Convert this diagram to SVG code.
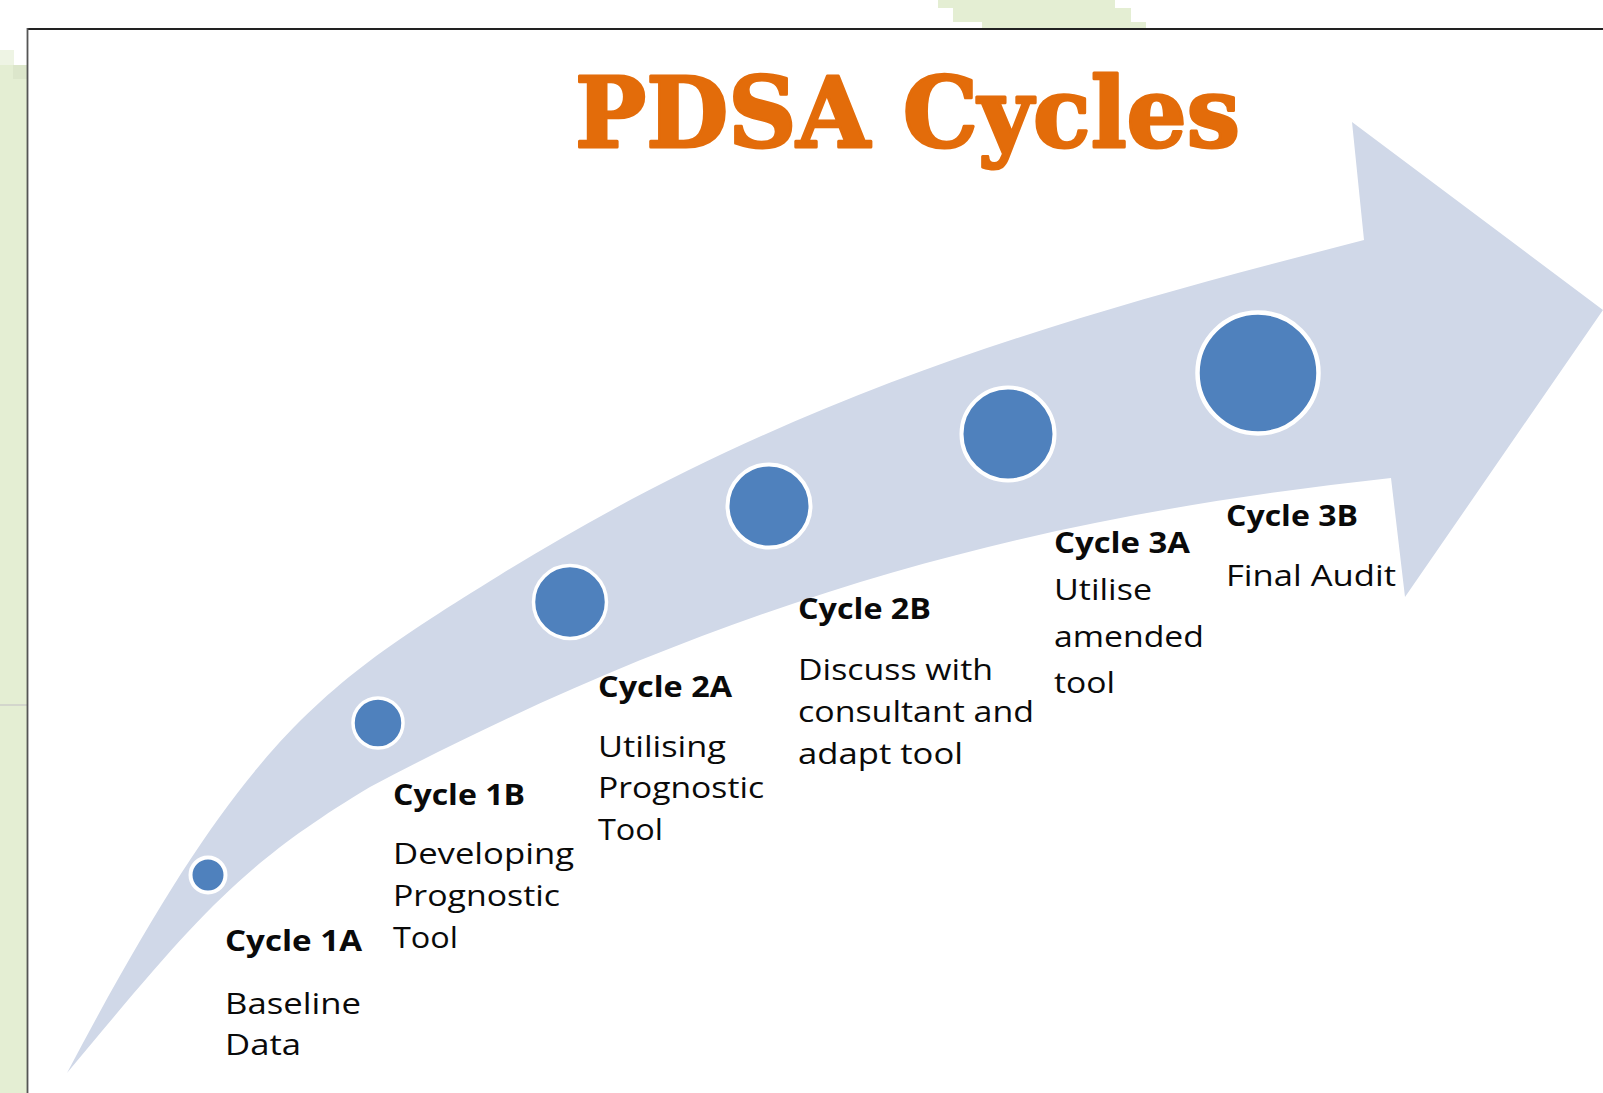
<svg xmlns="http://www.w3.org/2000/svg" width="1603" height="1093" viewBox="0 0 1603 1093">
  <style>
    .hdr { font-family: "Open Sans", "Noto Sans", "Liberation Sans", sans-serif; font-weight: 700; font-size: 29px; fill: #0A0A0A; }
    .body { font-family: "Open Sans", "Noto Sans", "Liberation Sans", sans-serif; font-weight: 400; font-size: 29px; fill: #0A0A0A; }
    .dot { fill: #4F81BD; stroke: #FFFFFF; }
    .title { font-family: "DejaVu Serif", "Liberation Serif", serif; font-weight: 700; font-size: 98px; fill: #E36C0A; stroke: #E36C0A; stroke-width: 3; stroke-linejoin: round; }
  </style>
  <rect x="0" y="0" width="1603" height="1093" fill="#FFFFFF"/>
  <g id="background">
    <rect x="0" y="50" width="14" height="16" fill="#EEF4E4"/>
    <rect x="0" y="65" width="27" height="1028" fill="#E4EED3"/>
    <rect x="13" y="65" width="14" height="14" fill="#DCE6CB"/>
    <rect x="0" y="704" width="27" height="2" fill="#D3D6CC"/>
    <polygon points="938,0 1115,0 1115,8 1131,8 1131,22 1146,22 1146,28 982,28 982,22 953,22 953,8 938,8" fill="#E4EED3"/>
    <line x1="27" y1="29" x2="1603" y2="29" stroke="#222222" stroke-width="1.8"/>
    <line x1="27.5" y1="28" x2="27.5" y2="1093" stroke="#555555" stroke-width="1.8"/>
  </g>
  <text id="title" class="title" x="575" y="147" textLength="665" lengthAdjust="spacingAndGlyphs">PDSA Cycles</text>
  <g id="connectors">
    <path id="progress-arrow" fill="#D0D8E8" d="M 67 1073 C 246 734 320 686.6 500 575 C 800 389 1073.6 315.3 1364 240 L 1352 122 L 1603 310 L 1405 597 L 1391 478 C 1091 511 770 575 370 787 C 240 865 197 917 67 1073 Z"/>
  </g>
  <g id="cycle-1a">
    <circle class="dot" cx="208" cy="875" r="17.5" stroke-width="4"/>
    <text class="hdr" x="225" y="951" textLength="137" lengthAdjust="spacingAndGlyphs">Cycle 1A</text>
    <text class="body" x="225" y="1014" textLength="136" lengthAdjust="spacingAndGlyphs">Baseline</text>
    <text class="body" x="225" y="1055" textLength="76" lengthAdjust="spacingAndGlyphs">Data</text>
  </g>
  <g id="cycle-1b">
    <circle class="dot" cx="378" cy="723" r="25" stroke-width="3.5"/>
    <text class="hdr" x="393" y="805" textLength="132" lengthAdjust="spacingAndGlyphs">Cycle 1B</text>
    <text class="body" x="393" y="864" textLength="181" lengthAdjust="spacingAndGlyphs">Developing</text>
    <text class="body" x="393" y="906" textLength="167" lengthAdjust="spacingAndGlyphs">Prognostic</text>
    <text class="body" x="393" y="948" textLength="65" lengthAdjust="spacingAndGlyphs">Tool</text>
  </g>
  <g id="cycle-2a">
    <circle class="dot" cx="570" cy="602" r="36.5" stroke-width="3.5"/>
    <text class="hdr" x="598" y="697" textLength="134" lengthAdjust="spacingAndGlyphs">Cycle 2A</text>
    <text class="body" x="598" y="757" textLength="128" lengthAdjust="spacingAndGlyphs">Utilising</text>
    <text class="body" x="598" y="798" textLength="166" lengthAdjust="spacingAndGlyphs">Prognostic</text>
    <text class="body" x="598" y="840" textLength="65" lengthAdjust="spacingAndGlyphs">Tool</text>
  </g>
  <g id="cycle-2b">
    <circle class="dot" cx="769" cy="506" r="41.5" stroke-width="4"/>
    <text class="hdr" x="798" y="619" textLength="133" lengthAdjust="spacingAndGlyphs">Cycle 2B</text>
    <text class="body" x="798" y="680" textLength="195" lengthAdjust="spacingAndGlyphs">Discuss with</text>
    <text class="body" x="798" y="722" textLength="236" lengthAdjust="spacingAndGlyphs">consultant and</text>
    <text class="body" x="798" y="764" textLength="165" lengthAdjust="spacingAndGlyphs">adapt tool</text>
  </g>
  <g id="cycle-3a">
    <circle class="dot" cx="1008" cy="434" r="46.5" stroke-width="4"/>
    <text class="hdr" x="1054" y="553" textLength="136" lengthAdjust="spacingAndGlyphs">Cycle 3A</text>
    <text class="body" x="1054" y="600" textLength="98" lengthAdjust="spacingAndGlyphs">Utilise</text>
    <text class="body" x="1054" y="647" textLength="150" lengthAdjust="spacingAndGlyphs">amended</text>
    <text class="body" x="1054" y="693" textLength="61" lengthAdjust="spacingAndGlyphs">tool</text>
  </g>
  <g id="cycle-3b">
    <circle class="dot" cx="1258" cy="373" r="60.5" stroke-width="4.5"/>
    <text class="hdr" x="1226" y="526" textLength="132" lengthAdjust="spacingAndGlyphs">Cycle 3B</text>
    <text class="body" x="1226" y="586" textLength="170" lengthAdjust="spacingAndGlyphs">Final Audit</text>
  </g>
</svg>
